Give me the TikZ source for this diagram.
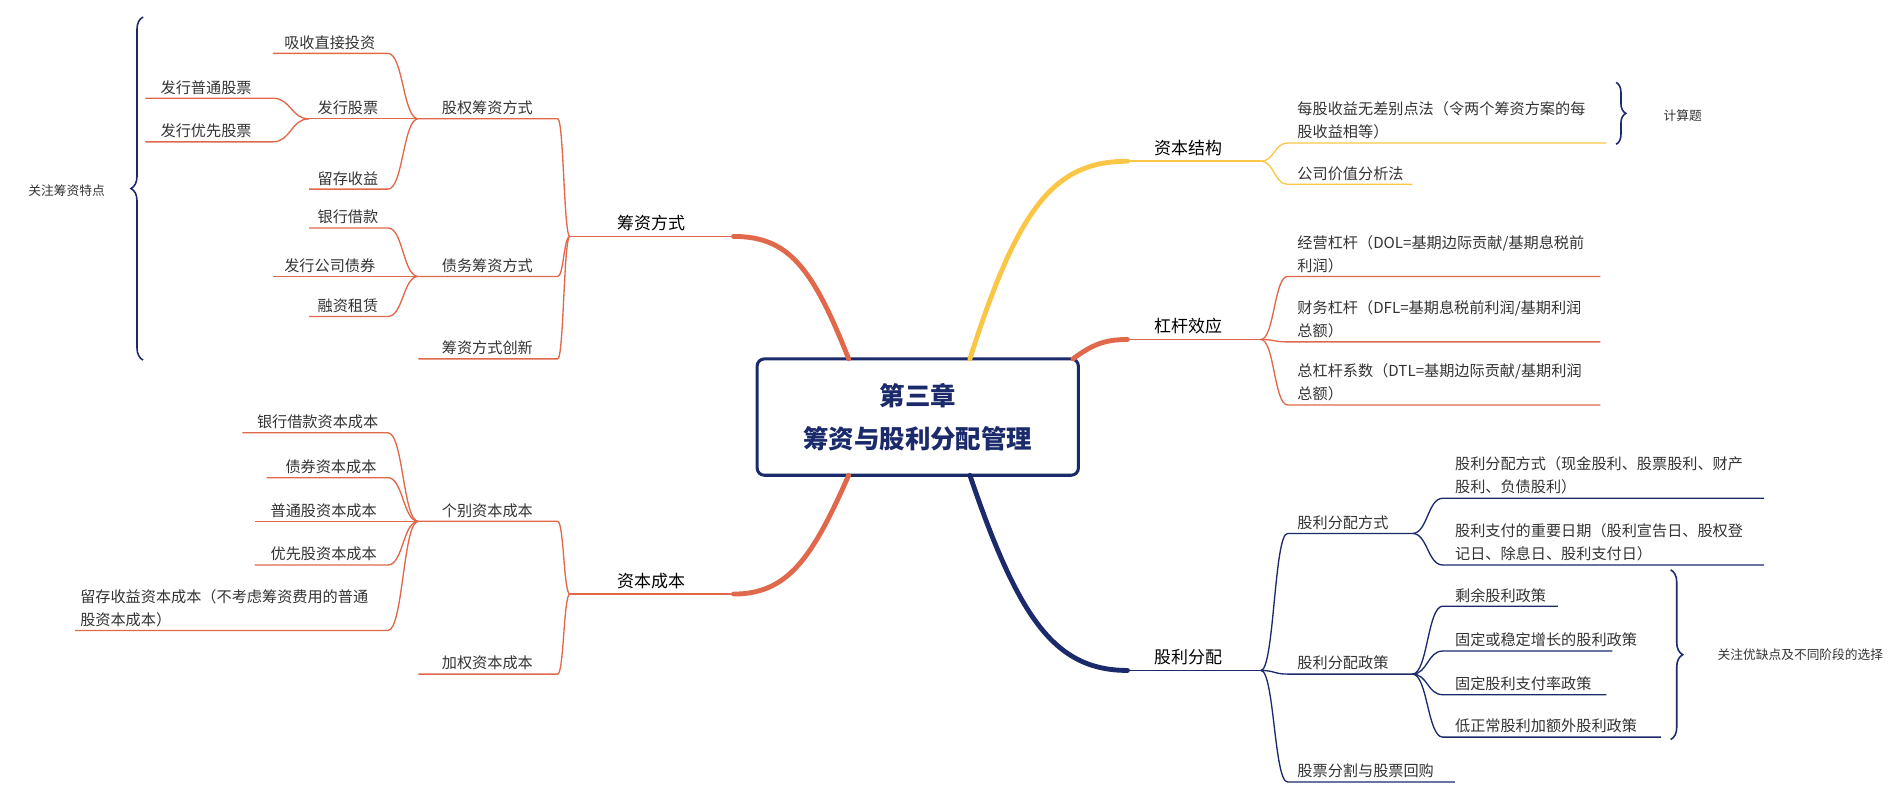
\documentclass[tikz,border=0pt]{standalone}
\usepackage{fontspec}
\setmainfont{Noto Sans CJK SC}
\usetikzlibrary{decorations.pathreplacing}
\definecolor{org}{HTML}{E0684B}
\definecolor{yel}{HTML}{F9C646}
\definecolor{nav}{HTML}{1B2A6B}
\definecolor{txt}{HTML}{333333}
\tikzset{lbl/.style={font=\fontsize{12.5}{19}\selectfont, text=txt, inner sep=2pt, align=left},
 main/.style={font=\fontsize{14}{19}\selectfont, text=black, inner sep=2pt},
 sub/.style={line width=1.1pt}, thick branch/.style={line width=4pt, line cap=round}}
\newcommand\Lk[6]{\draw[sub,#6] (#1,#2) .. controls ({(#1+#3)/2},#2) and ({(#1+#3)/2},#5) .. (#3,#5) -- (#4,#5);}
\begin{document}
\begin{tikzpicture}[x=1pt,y=-1pt]
\useasboundingbox (0,0) rectangle (1568,656);
% center
\node[draw=nav, line width=2.5pt, rounded corners=6pt, minimum width=265pt, minimum height=96pt, text=nav, font=\bfseries\fontsize{21}{35}\selectfont, align=center] (c) at (757,344) {第三章\\筹资与股利分配管理};
% main branches
\draw[thick branch,org] (700,296) .. controls (670,220) and (650,195) .. (605,195);
\draw[sub,org,line width=1.5pt] (605,195) -- (470,195);
\node[main,anchor=south] (a) at (537,193) {筹资方式};
\draw[thick branch,org] (700,392) .. controls (670,460) and (650,490) .. (605,490);
\draw[sub,org,line width=1.5pt] (605,490) -- (470,490);
\node[main,anchor=south] (b) at (537,488) {资本成本};
\draw[thick branch,yel] (800,296) .. controls (840,170) and (870,133) .. (930,133);
\draw[sub,yel,line width=1.5pt] (930,133) -- (1040,133);
\node[main,anchor=south] (d) at (980,131) {资本结构};
\draw[thick branch,org] (885,296) .. controls (900,285) and (910,280) .. (930,280);
\draw[sub,org,line width=1.5pt] (930,280) -- (1040,280);
\node[main,anchor=south] (e) at (980,278) {杠杆效应};
\draw[thick branch,nav] (800,392) .. controls (840,510) and (870,553) .. (930,553);
\draw[sub,nav,line width=1.5pt] (930,553) -- (1040,553);
\node[main,anchor=south] (f) at (980,551) {股利分配};
% 筹资方式 children
\Lk{470}{195}{460}{345}{98}{org}\node[lbl,anchor=south] at (402,97){股权筹资方式};
\Lk{470}{195}{460}{345}{228}{org}\node[lbl,anchor=south] at (402,227){债务筹资方式};
\Lk{470}{195}{460}{345}{296}{org}\node[lbl,anchor=south] at (402,295){筹资方式创新};
\Lk{345}{98}{320}{225}{44}{org}\node[lbl,anchor=south] at (272,43){吸收直接投资};
\Lk{345}{98}{320}{255}{98}{org}\node[lbl,anchor=south] at (287,97){发行股票};
\Lk{345}{98}{320}{255}{156}{org}\node[lbl,anchor=south] at (287,155){留存收益};
\Lk{255}{98}{225}{120}{81}{org}\node[lbl,anchor=south] at (170,80){发行普通股票};
\Lk{255}{98}{225}{120}{117}{org}\node[lbl,anchor=south] at (170,116){发行优先股票};
\Lk{345}{228}{320}{255}{188}{org}\node[lbl,anchor=south] at (287,187){银行借款};
\Lk{345}{228}{320}{225}{228}{org}\node[lbl,anchor=south] at (272,227){发行公司债券};
\Lk{345}{228}{320}{255}{261}{org}\node[lbl,anchor=south] at (287,260){融资租赁};
\draw[nav,line width=1.3pt,decorate,decoration={brace,amplitude=10pt}] (118,297) -- (118,14);
\node[lbl,font=\fontsize{10.5}{14}\selectfont] at (55,157){关注筹资特点};
% 资本成本 children
\Lk{470}{490}{460}{345}{430}{org}\node[lbl,anchor=south] at (402,429){个别资本成本};
\Lk{470}{490}{460}{345}{556}{org}\node[lbl,anchor=south] at (402,555){加权资本成本};
\Lk{345}{430}{320}{200}{357}{org}\node[lbl,anchor=south] at (262,356){银行借款资本成本};
\Lk{345}{430}{320}{220}{394}{org}\node[lbl,anchor=south] at (273,393){债券资本成本};
\Lk{345}{430}{320}{210}{430}{org}\node[lbl,anchor=south] at (267,429){普通股资本成本};
\Lk{345}{430}{320}{210}{466}{org}\node[lbl,anchor=south] at (267,465){优先股资本成本};
\Lk{345}{430}{320}{62}{520}{org}\node[lbl,anchor=south west] at (64,519){留存收益资本成本（不考虑筹资费用的普通\\股资本成本）};
% 资本结构
\Lk{1040}{133}{1062}{1325}{118}{yel}\node[lbl,anchor=south west] at (1068,117){每股收益无差别点法（令两个筹资方案的每\\股收益相等）};
\Lk{1040}{133}{1062}{1165}{152}{yel}\node[lbl,anchor=south west] at (1068,151){公司价值分析法};
\draw[nav,line width=1.3pt,decorate,decoration={brace,amplitude=8pt}] (1333,68) -- (1333,119);
\node[lbl,font=\fontsize{10.5}{14}\selectfont] at (1388,95){计算题};
% 杠杆效应
\Lk{1040}{280}{1062}{1320}{228}{org}\node[lbl,anchor=south west] at (1068,227){经营杠杆（DOL=基期边际贡献/基期息税前\\利润）};
\Lk{1040}{280}{1062}{1320}{282}{org}\node[lbl,anchor=south west] at (1068,281){财务杠杆（DFL=基期息税前利润/基期利润\\总额）};
\Lk{1040}{280}{1062}{1320}{334}{org}\node[lbl,anchor=south west] at (1068,333){总杠杆系数（DTL=基期边际贡献/基期利润\\总额）};
% 股利分配
\Lk{1040}{553}{1062}{1165}{440}{nav}\node[lbl,anchor=south west] at (1068,439){股利分配方式};
\Lk{1040}{553}{1062}{1165}{556}{nav}\node[lbl,anchor=south west] at (1068,555){股利分配政策};
\Lk{1040}{553}{1062}{1200}{645}{nav}\node[lbl,anchor=south west] at (1068,644){股票分割与股票回购};
\Lk{1165}{440}{1190}{1455}{411}{nav}\node[lbl,anchor=south west] at (1198,410){股利分配方式（现金股利、股票股利、财产\\股利、负债股利）};
\Lk{1165}{440}{1190}{1455}{466}{nav}\node[lbl,anchor=south west] at (1198,465){股利支付的重要日期（股利宣告日、股权登\\记日、除息日、股利支付日）};
\Lk{1165}{556}{1190}{1285}{500}{nav}\node[lbl,anchor=south west] at (1198,499){剩余股利政策};
\Lk{1165}{556}{1190}{1330}{537}{nav}\node[lbl,anchor=south west] at (1198,536){固定或稳定增长的股利政策};
\Lk{1165}{556}{1190}{1325}{573}{nav}\node[lbl,anchor=south west] at (1198,572){固定股利支付率政策};
\Lk{1165}{556}{1190}{1370}{608}{nav}\node[lbl,anchor=south west] at (1198,607){低正常股利加额外股利政策};
\draw[nav,line width=1.3pt,decorate,decoration={brace,amplitude=10pt}] (1378,470) -- (1378,610);
\node[lbl,font=\fontsize{10.5}{14}\selectfont] at (1485,540){关注优缺点及不同阶段的选择};
\end{tikzpicture}
\end{document}
